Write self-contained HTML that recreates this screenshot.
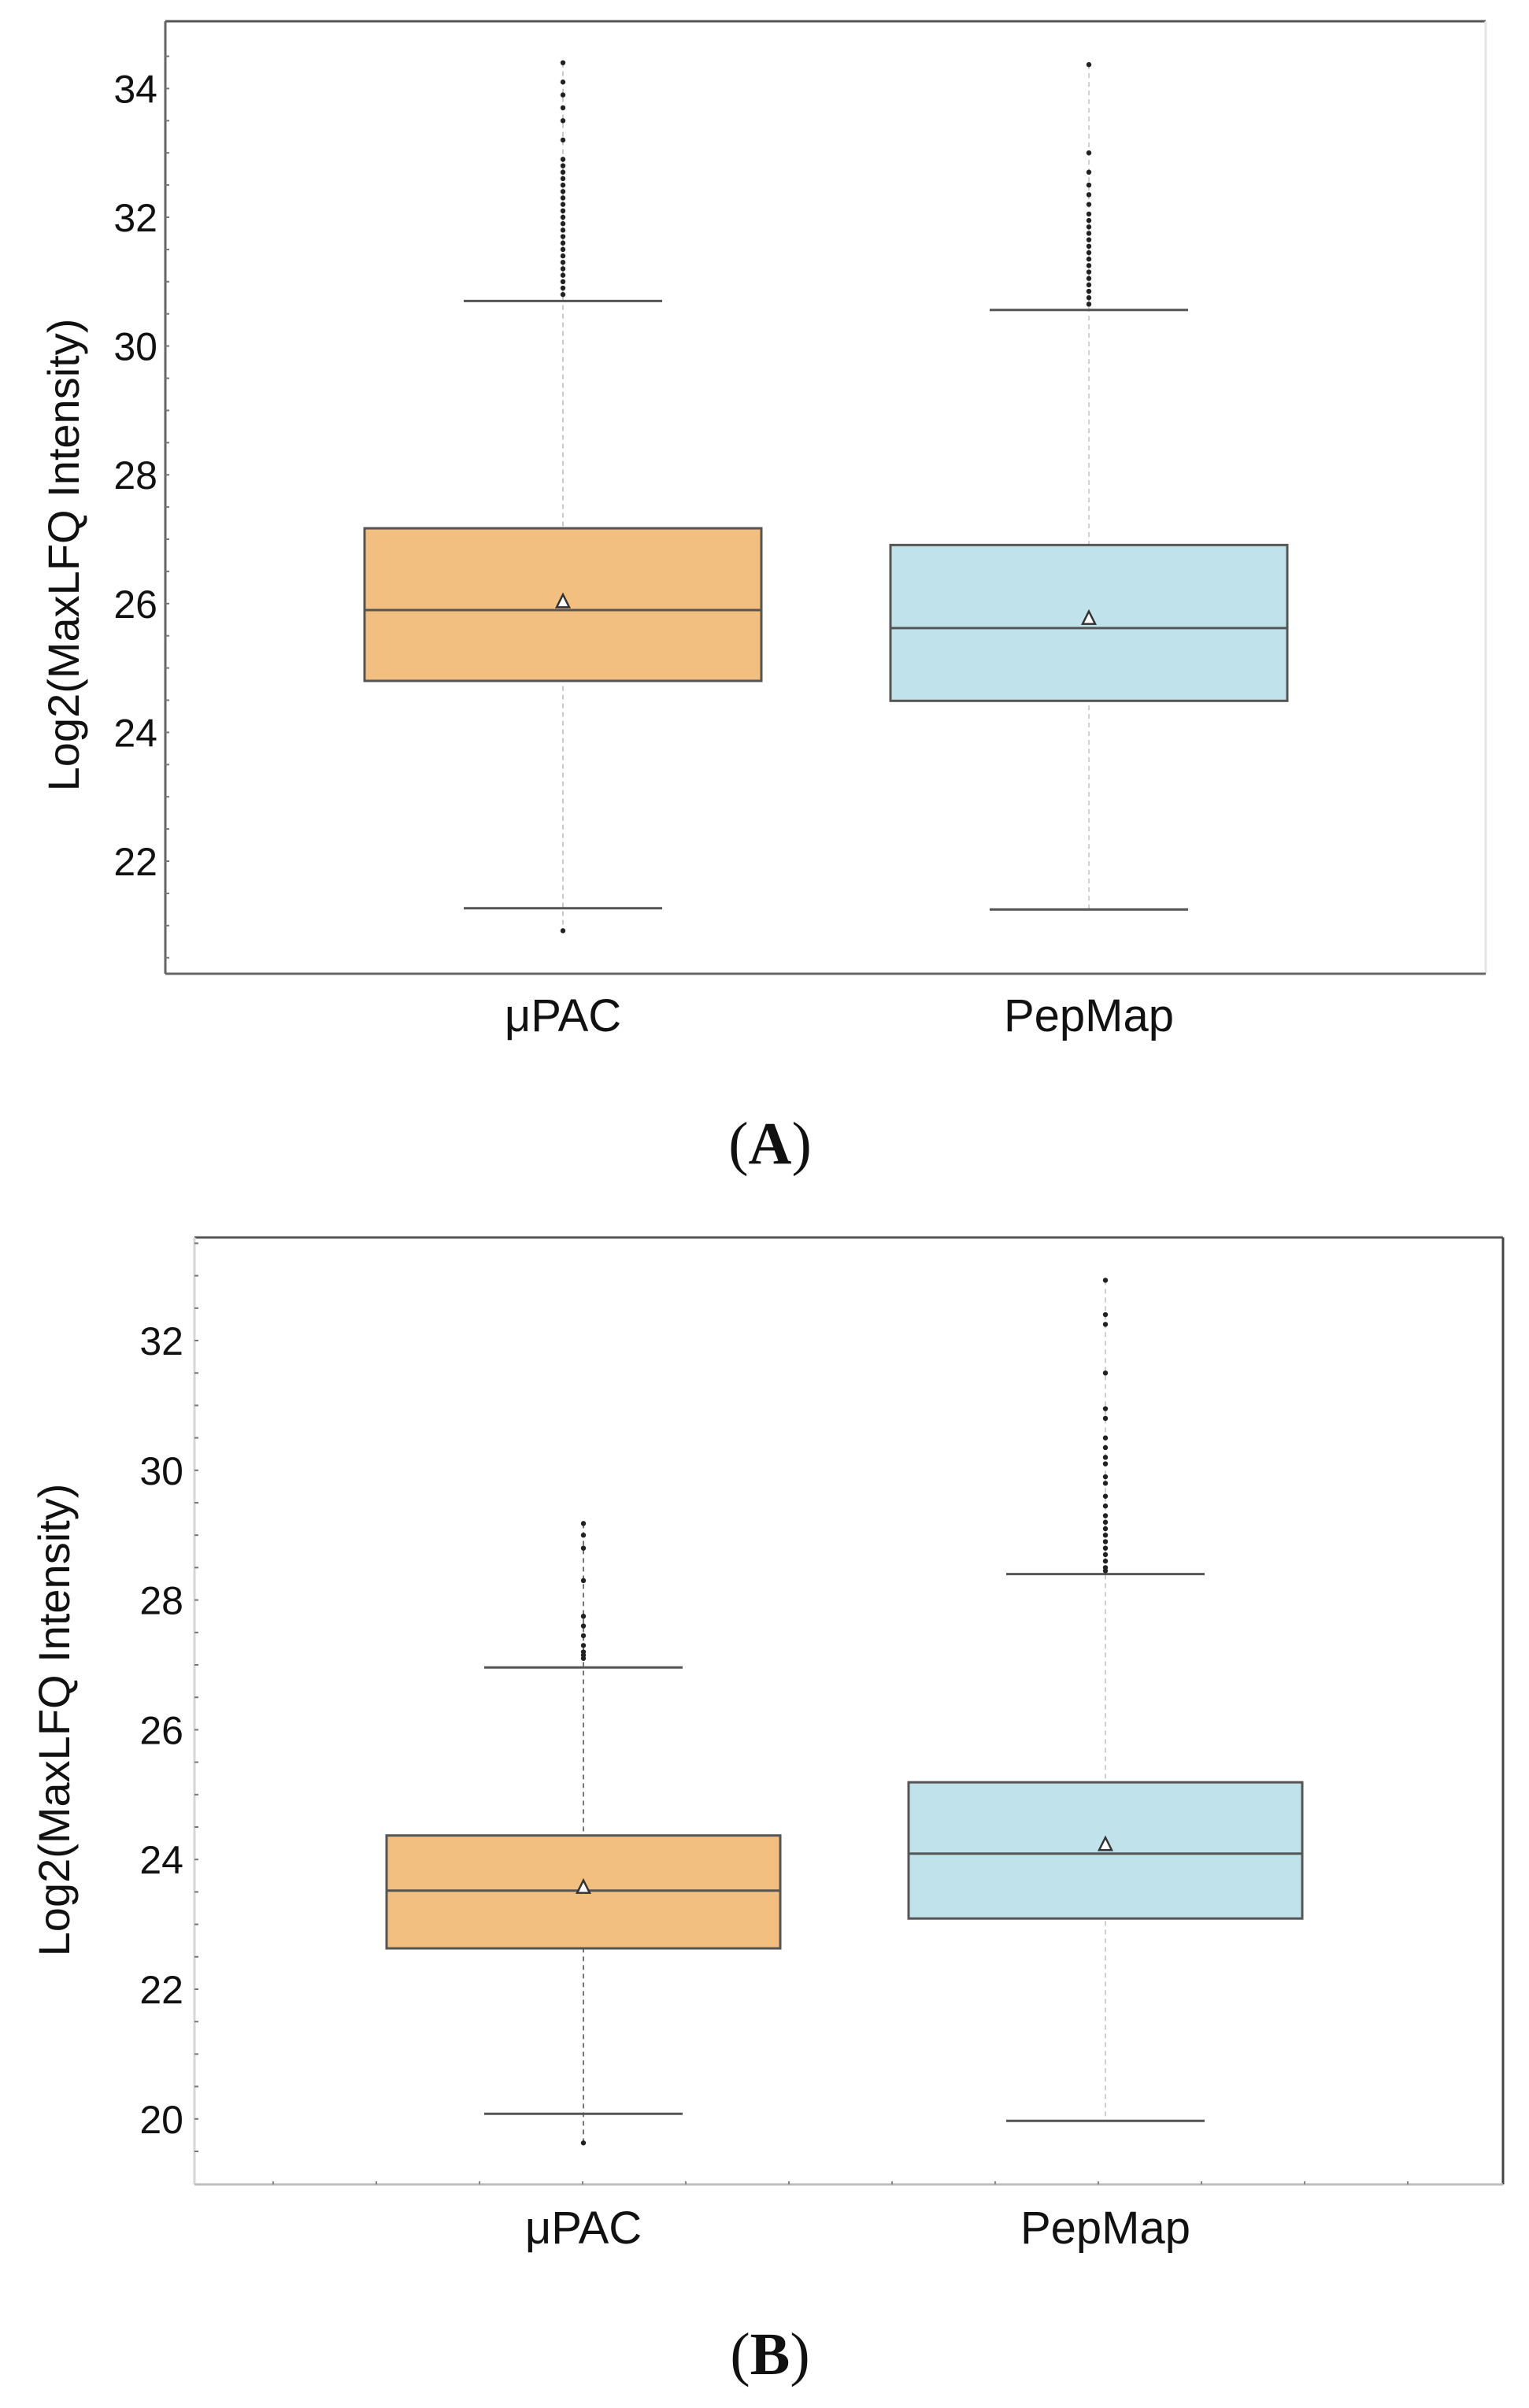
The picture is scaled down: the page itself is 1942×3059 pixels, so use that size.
<!DOCTYPE html>
<html><head><meta charset="utf-8">
<style>
html,body{margin:0;padding:0;background:#fff;}
svg{display:block;}
text{font-family:"Liberation Sans",sans-serif;fill:#111;}
</style></head>
<body>
<svg id="fig" width="1942" height="3059" viewBox="0 0 1942 3059" xmlns="http://www.w3.org/2000/svg">
<rect x="0" y="0" width="1942" height="3059" fill="#fff"/>
<g id="panelA"></g>
<g id="panelB"></g>
<text x="978" y="1478" text-anchor="middle" font-size="76" style="font-family:'Liberation Serif',serif">(<tspan font-weight="bold">A</tspan>)</text>
<text x="978" y="3016" text-anchor="middle" font-size="76" style="font-family:'Liberation Serif',serif">(<tspan font-weight="bold">B</tspan>)</text>
</svg>
<script>
// ---- data ----
const categories = ["\u03bcPAC", "PepMap"];
const colorsFill = ["#f2bf80", "#c0e2ea"];
// Panel A
const aQ1 = [24.8, 24.49];
const aMedian = [25.9, 25.62];
const aQ3 = [27.17, 26.91];
const aMean = [26.03, 25.77];
const aWhiskerLow = [21.27, 21.25];
const aWhiskerHigh = [30.7, 30.56];
const aOutliers0 = [20.92, 30.8, 30.9, 31.0, 31.1, 31.2, 31.3, 31.4, 31.5, 31.6, 31.7, 31.8, 31.9, 32.0, 32.1, 32.2, 32.3, 32.4, 32.5, 32.6, 32.7, 32.8, 32.9, 33.2, 33.5, 33.7, 33.9, 34.1, 34.4];
const aOutliers1 = [30.65, 30.75, 30.85, 30.95, 31.05, 31.15, 31.25, 31.35, 31.45, 31.55, 31.65, 31.75, 31.85, 31.95, 32.05, 32.2, 32.35, 32.5, 32.7, 33.0, 34.37];
const aTicks = [22, 24, 26, 28, 30, 32, 34];
// Panel B
const bQ1 = [22.63, 23.09];
const bMedian = [23.52, 24.09];
const bQ3 = [24.37, 25.19];
const bMean = [23.57, 24.23];
const bWhiskerLow = [20.08, 19.97];
const bWhiskerHigh = [26.96, 28.4];
const bOutliers0 = [19.63, 27.1, 27.15, 27.2, 27.3, 27.45, 27.6, 27.75, 28.3, 28.8, 29.0, 29.18];
const bOutliers1 = [28.45, 28.5, 28.6, 28.7, 28.8, 28.9, 29.0, 29.1, 29.2, 29.3, 29.45, 29.6, 29.8, 29.9, 30.1, 30.2, 30.35, 30.5, 30.8, 30.95, 31.5, 32.25, 32.4, 32.93];
const bTicks = [20, 22, 24, 26, 28, 30, 32];

const NS = "http://www.w3.org/2000/svg";
function mk(parent, tag, attrs){
  const e = document.createElementNS(NS, tag);
  for (const k in attrs) e.setAttribute(k, attrs[k]);
  parent.appendChild(e);
  return e;
}

function drawPanel(g, cfg, d){
  const yScale = v => cfg.y0 + (cfg.v0 - v) * cfg.ppu;
  const xScale = i => cfg.centers[i];
  let e;
  e = mk(g, "rect", {x:cfg.left, y:cfg.top, width:cfg.right-cfg.left, height:cfg.bottom-cfg.top, fill:"#fff", stroke:"none"});
  
  
  e = mk(g, "line", {x1:cfg.left, y1:cfg.top, x2:cfg.right, y2:cfg.top, stroke:"#555", "stroke-width":3});
  
  
  e = mk(g, "line", {x1:cfg.right, y1:cfg.top, x2:cfg.right, y2:cfg.bottom, stroke:cfg.rightColor, "stroke-width":3});
  
  
  e = mk(g, "line", {x1:cfg.left, y1:cfg.top, x2:cfg.left, y2:cfg.bottom, stroke:cfg.leftColor, "stroke-width":3});
  
  
  e = mk(g, "line", {x1:cfg.left, y1:cfg.bottom, x2:cfg.right, y2:cfg.bottom, stroke:cfg.bottomColor, "stroke-width":3});
  
  
  for (let v = cfg.vmin; v <= cfg.vmax + 1e-9; v += 0.5){
    const y = yScale(v);
    if (y <= cfg.top + 4 || y >= cfg.bottom - 4) continue;
    e = mk(g, "line", {x1:cfg.left, y1:y, x2:cfg.left+5, y2:y, stroke:"#777", "stroke-width":2});
    
    
  }
  if (cfg.xMinor){
    for (let x = cfg.left + 100; x < cfg.right; x += 131){
      e = mk(g, "line", {x1:x, y1:cfg.bottom-4, x2:x, y2:cfg.bottom, stroke:"#888", "stroke-width":2});
      
      
    }
  }
  d.ticks.forEach(t => {
    const el = mk(g, "text", {x:cfg.left - cfg.labelGap, y:yScale(t) + 18, "text-anchor":"end", "font-size":50});
    el.textContent = String(t);
    
    
  });
  const tt = mk(g, "text", {x:0, y:0, "text-anchor":"middle", "font-size":56, transform:`translate(${cfg.titleX},${cfg.titleY}) rotate(-90)`});
  tt.textContent = "Log2(MaxLFQ Intensity)";
  
  
  categories.forEach((c, i) => {
    const cx = xScale(i);
    const hw = cfg.boxHalf, ww = cfg.whiskHalf;
    const outs = d.outliers[i];
    const omin = Math.min(d.wl[i], ...outs), omax = Math.max(d.wh[i], ...outs);
    let l = mk(g, "line", {x1:cx, y1:yScale(omax), x2:cx, y2:yScale(omin), stroke:cfg.dashColor[i], "stroke-width":2, "stroke-dasharray":"6 5"});
    
    
    l = mk(g, "line", {x1:cx-ww, y1:yScale(d.wh[i]), x2:cx+ww, y2:yScale(d.wh[i]), stroke:"#555", "stroke-width":3});
    
    
    l = mk(g, "line", {x1:cx-ww, y1:yScale(d.wl[i]), x2:cx+ww, y2:yScale(d.wl[i]), stroke:"#555", "stroke-width":3});
    
    
    outs.forEach(v => {
      const p = mk(g, "circle", {cx:cx, cy:yScale(v), r:3.2, fill:"#222"});
      
      
    });
    const b = mk(g, "rect", {x:cx-hw, y:yScale(d.q3[i]), width:2*hw, height:yScale(d.q1[i])-yScale(d.q3[i]), fill:colorsFill[i], stroke:"#555", "stroke-width":3});
    
    
    l = mk(g, "line", {x1:cx-hw, y1:yScale(d.med[i]), x2:cx+hw, y2:yScale(d.med[i]), stroke:"#555", "stroke-width":3});
    
    
    const my = yScale(d.mean[i]);
    const tri = mk(g, "polygon", {points:`${cx},${my-9} ${cx-8},${my+7} ${cx+8},${my+7}`, fill:"#fff", stroke:"#333", "stroke-width":2.5});
    
    
    const xl = mk(g, "text", {x:cx, y:cfg.xLabelY, "text-anchor":"middle", "font-size":58});
    xl.textContent = c;
    
    
  });
}

drawPanel(document.getElementById("panelA"), {
  left:210, right:1887, top:27, bottom:1237, y0:276, v0:32, ppu:81.8, vmin:20.5, vmax:35,
  centers:[715, 1383], boxHalf:252, whiskHalf:126, labelGap:10, titleX:100, titleY:705,
  xLabelY:1310, leftColor:"#666", bottomColor:"#666", rightColor:"#e4e4e4", xMinor:false,
  dashColor:["#c8c8c8", "#d0d0d0"]
}, {ticks:aTicks, q1:aQ1, med:aMedian, q3:aQ3, mean:aMean, wl:aWhiskerLow, wh:aWhiskerHigh, outliers:[aOutliers0, aOutliers1]});

drawPanel(document.getElementById("panelB"), {
  left:247, right:1909, top:1572, bottom:2775, y0:1703, v0:32, ppu:82.4, vmin:19, vmax:33.5,
  centers:[741, 1404], boxHalf:250, whiskHalf:126, labelGap:14, titleX:88, titleY:2185,
  xLabelY:2850, leftColor:"#d6d6d6", bottomColor:"#bdbdbd", rightColor:"#444", xMinor:true,
  dashColor:["#777", "#cfcfcf"]
}, {ticks:bTicks, q1:bQ1, med:bMedian, q3:bQ3, mean:bMean, wl:bWhiskerLow, wh:bWhiskerHigh, outliers:[bOutliers0, bOutliers1]});
</script>
</body></html>
